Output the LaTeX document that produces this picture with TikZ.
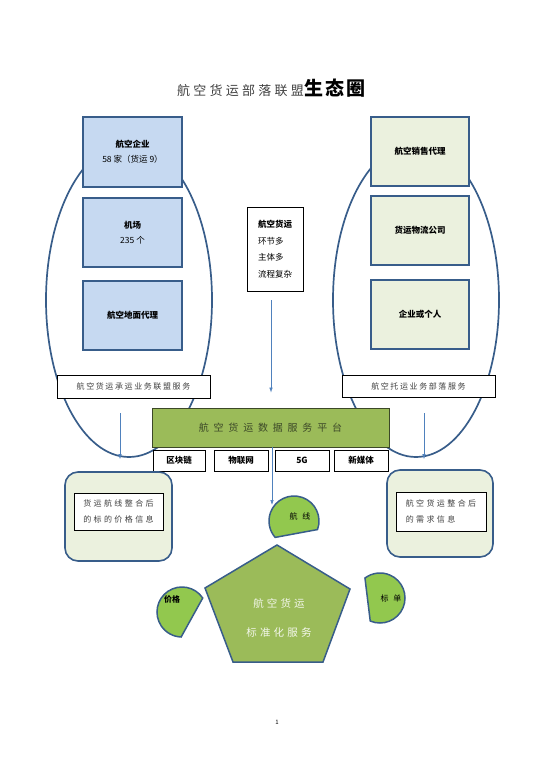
\documentclass[tikz,border=0pt]{standalone}
\usepackage{fontspec}
\setmainfont{Noto Sans CJK SC}
\usetikzlibrary{positioning,arrows.meta}

\definecolor{edgeblue}{RGB}{56,93,138}
\definecolor{boxblue}{RGB}{198,217,241}
\definecolor{palegreen}{RGB}{235,241,222}
\definecolor{leafgreen}{RGB}{155,187,89}
\definecolor{petalgreen}{RGB}{146,200,78}
\definecolor{arrowblue}{RGB}{79,129,189}
\definecolor{inkgrey}{RGB}{64,64,64}
\definecolor{olivetext}{RGB}{60,72,40}

% size, line skip, letter space
\newcommand{\tracked}[3]{\fontsize{#1}{#2}\selectfont\addfontfeature{LetterSpace=#3}}

\tikzset{
  carrier/.style={draw=edgeblue, line width=1.6pt, fill=boxblue, minimum width=99pt,
    minimum height=69pt, align=center, font=\bfseries\fontsize{8.5}{15}\selectfont},
  shipper/.style={carrier, fill=palegreen, minimum width=98pt},
  ring/.style={draw=edgeblue, line width=1.7pt},
  tagbox/.style={draw=black, fill=white, line width=0.6pt, minimum width=153pt,
    minimum height=22pt, text=inkgrey, font=\tracked{8}{9}{20}},
  techbox/.style={draw=black, fill=white, line width=0.6pt, minimum width=54pt,
    minimum height=21pt, font=\bfseries\fontsize{8.5}{9}\selectfont},
  infopanel/.style={draw=edgeblue, line width=1.6pt, fill=palegreen, rounded corners=13pt},
  infotext/.style={draw=black, fill=white, line width=0.6pt, align=left, text=inkgrey,
    font=\tracked{8}{16}{30}},
  petal/.style={draw=edgeblue, line width=1.5pt, fill=petalgreen},
  arr/.style={arrowblue, line width=0.6pt, -{Latex[length=5pt,width=3.5pt]}}
}

\begin{document}
\begin{tikzpicture}[x=1pt, y=-1pt]
  \useasboundingbox (0,0) rectangle (554,783);

  % title
  \node[anchor=base west, inner sep=0pt, text=inkgrey, font=\tracked{13}{15}{25}] (titleA) at (177,96) {航空货运部落联盟};
  \node[anchor=base west, inner sep=0pt, font=\bfseries\tracked{19}{21}{12}] (titleB) at (titleA.base east) {生态圈};

  % the two tribes
  \draw[ring] (129,300) ellipse [x radius=83, y radius=157];
  \draw[ring] (416,300) ellipse [x radius=83, y radius=157];

  \node[carrier, minimum height=70pt] (airline) at (132.5,152) {航空企业\\\mdseries 58 家（货运 9）};
  \node[carrier] (airport) at (132.5,232.5) {机场\\\mdseries 235 个};
  \node[carrier] (handler) at (132.5,315.5) {航空地面代理};

  \node[shipper] (agent) at (420,151.5) {航空销售代理};
  \node[shipper] (logistics) at (420,230.5) {货运物流公司};
  \node[shipper] (client) at (420,314.5) {企业或个人};

  \node[tagbox, minimum height=23pt] (carrierTag) at (133.5,386.5) {航空货运承运业务联盟服务};
  \node[tagbox] (shipperTag) at (418.5,386) {航空托运业务部落服务};

  % the middle note
  \node[draw=black, line width=0.8pt, minimum width=56pt, minimum height=84pt, align=left,
    font=\fontsize{8.5}{16.5}\selectfont] (note) at (275,249) {\textbf{航空货运}\\环节多\\主体多\\流程复杂};

  % data platform
  \node[draw=olivetext, line width=0.8pt, fill=leafgreen, minimum width=237pt, minimum height=39pt,
    text=olivetext, font=\tracked{10}{12}{48}] (platform) at (270.5,427.5) {航空货运数据服务平台};
  \node[techbox, minimum width=52pt] (chain) at (179,460.5) {区块链};
  \node[techbox] (iot) at (241,460.5) {物联网};
  \node[techbox] (fiveg) at (302,460.5) {5G};
  \node[techbox] (media) at (361,460.5) {新媒体};

  % integrated information
  \node[infopanel, minimum width=107pt, minimum height=89pt] (pricePanel) at (118.5,516.5) {};
  \node[infotext, minimum width=89pt, minimum height=37pt] (priceInfo) at (118.5,511.5) {货运航线整合后\\的标的价格信息};
  \node[infopanel, minimum width=106pt, minimum height=87pt] (demandPanel) at (440,513.5) {};
  \node[infotext, minimum width=90pt, minimum height=39pt] (demandInfo) at (441,511.5) {航空货运整合后\\的需求信息};

  % standardised service
  \draw[draw=edgeblue, line width=1.5pt, fill=leafgreen]
    (277,545) -- (350,589) -- (323,662) -- (233,662) -- (205,588) -- cycle;
  \node[align=center, text=white!88!leafgreen, font=\tracked{10.5}{29}{30}] (core) at (279,618) {航空货运\\标准化服务};

  \draw[petal] (294,521) ++(20:25) arc[start angle=20, end angle=-221, radius=25] -- cycle;
  \draw[petal] (182,612) ++(-34:25) arc[start angle=-34, end angle=-268, radius=25] -- cycle;
  \draw[petal] (380,598) ++(113:25) arc[start angle=113, end angle=-127, radius=25] -- cycle;
  \node[font=\tracked{8}{8}{60}] (route) at (300,516) {航线};
  \node[font=\bfseries\fontsize{8}{8}\selectfont] (price) at (172,599) {价格};
  \node[font=\tracked{8}{8}{60}] (order) at (391,598) {标单};

  % arrows
  \coordinate (noteOut) at (271,300);
  \coordinate (carrierOut) at (120,413);
  \coordinate (shipperOut) at (424,413);
  \coordinate (platformOut) at (272,447);
  \draw[arr, shorten >=15pt] (noteOut) -- (noteOut |- platform.north);
  \draw[arr, shorten >=12pt] (carrierOut) -- (carrierOut |- pricePanel.north);
  \draw[arr, shorten >=10pt] (shipperOut) -- (shipperOut |- demandPanel.north);
  \draw[arr] (platformOut) -- (272,505);

  % page number
  \node[font=\fontsize{6}{6}\selectfont] (page) at (277,722) {1};
\end{tikzpicture}
\end{document}
